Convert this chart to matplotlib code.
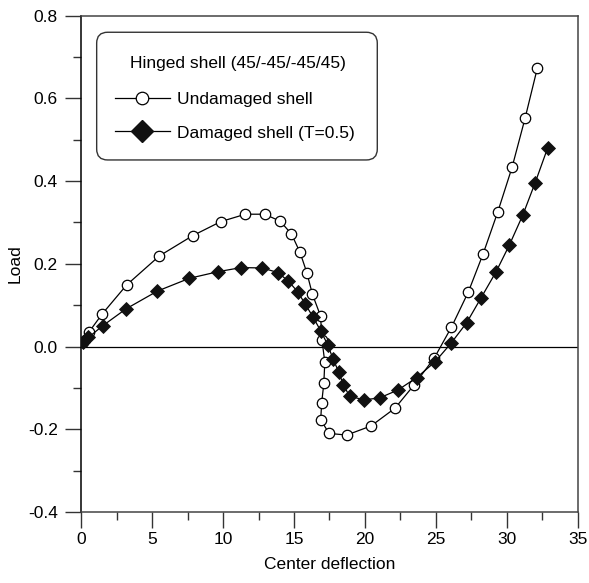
import matplotlib
matplotlib.use("Agg")
import matplotlib.pyplot as plt
from matplotlib.lines import Line2D
from matplotlib.patches import FancyBboxPatch
from matplotlib.ticker import MultipleLocator

plt.rcParams['font.family'] = ['Liberation Sans', 'DejaVu Sans']

# Undamaged shell
und_x = [0.14, 0.56, 1.48, 3.2, 5.5, 7.85, 9.83, 11.57, 12.93, 14.03, 14.82, 15.42, 15.9, 16.3,
         16.87, 16.97, 17.17, 17.1, 16.95, 16.88, 17.47, 18.71, 20.43, 22.12, 23.46, 24.9,
         26.1, 27.29, 28.33, 29.36, 30.37, 31.29, 32.16]
und_y = [0.012, 0.036, 0.079, 0.149, 0.219, 0.268, 0.302, 0.320, 0.320, 0.303, 0.272, 0.228, 0.179, 0.126,
         0.074, 0.016, -0.038, -0.089, -0.136, -0.177, -0.210, -0.214, -0.192, -0.149, -0.093, -0.027,
         0.047, 0.132, 0.224, 0.325, 0.433, 0.552, 0.674]

# Damaged shell (T=0.5)
dam_x = [0.14, 0.5, 1.5, 3.15, 5.36, 7.62, 9.64, 11.28, 12.76, 13.86, 14.61, 15.27, 15.8, 16.33,
         16.88, 17.38, 17.75, 18.16, 18.48, 18.92, 19.94, 21.04, 22.33, 23.65, 24.94, 26.07,
         27.18, 28.19, 29.25, 30.19, 31.13, 32.0, 32.89]
dam_y = [0.01, 0.022, 0.05, 0.091, 0.134, 0.165, 0.181, 0.191, 0.190, 0.179, 0.158, 0.132, 0.102, 0.072,
         0.038, 0.004, -0.030, -0.062, -0.093, -0.120, -0.129, -0.124, -0.105, -0.075, -0.037, 0.008,
         0.058, 0.118, 0.181, 0.246, 0.318, 0.396, 0.481]

legend_title = "Hinged shell (45/-45/-45/45)"
labels = ["Undamaged shell", "Damaged shell (T=0.5)"]

FS = 12.5

fig = plt.figure(figsize=(5.89, 5.83), dpi=100)
ax = fig.add_axes([0.138, 0.1218, 0.8428, 0.8513])

ax.axhline(0, color='black', lw=0.9, zorder=1)
ax.plot(und_x, und_y, color='black', lw=0.9, marker='o', ms=7.5, mfc='white', mec='black',
        mew=0.9, zorder=3)
ax.plot(dam_x, dam_y, color='black', lw=0.9, marker='D', ms=7.2, mfc='#111111', mec='#111111',
        mew=0.6, zorder=4)

ax.set_xlim(0, 35)
ax.set_ylim(-0.4, 0.8)
ax.xaxis.set_major_locator(MultipleLocator(5))
ax.xaxis.set_minor_locator(MultipleLocator(2.5))
ax.yaxis.set_major_locator(MultipleLocator(0.2))
ax.yaxis.set_minor_locator(MultipleLocator(0.1))
ax.yaxis.set_major_formatter(plt.FuncFormatter(lambda v, p: f"{v:.1f}"))
ax.xaxis.set_major_formatter(plt.FuncFormatter(lambda v, p: f"{v:.0f}"))

ax.tick_params(which='major', direction='out', length=11.5, width=1.0, color='#333333',
               labelsize=FS, top=False, right=False)
ax.tick_params(axis='y', which='major', pad=5.5)
ax.tick_params(axis='x', which='major', pad=3.0)
ax.tick_params(which='minor', direction='out', length=5.8, width=1.0, color='#333333',
               top=False, right=False)
for s in ax.spines.values():
    s.set_color('#444444')
    s.set_linewidth(1.1)
ax.spines['left'].set_color('black')

ax.set_xlabel("Center deflection", fontsize=FS, labelpad=7)
ax.set_ylabel("Load", fontsize=FS, labelpad=4)

# legend frame (rounded box)
x0, x1, yb, yt = 0.031, 0.5963, 0.7093, 0.9666
frame = FancyBboxPatch((x0, yb), x1 - x0, yt - yb, boxstyle="round,pad=0,rounding_size=0.022",
                       transform=ax.transAxes, facecolor='white', edgecolor='#333333',
                       linewidth=1.0, zorder=5)
ax.add_patch(frame)
ax.text((x0 + x1) / 2 + 0.002, 0.9027, legend_title, transform=ax.transAxes, ha='center',
        va='center', fontsize=FS, zorder=6)

handles = [
    Line2D([], [], color='black', lw=0.9, marker='o', ms=9, mfc='white', mec='black', mew=0.9),
    Line2D([], [], color='black', lw=0.9, marker='D', ms=11, mfc='#111111', mec='#111111'),
]
leg = ax.legend(handles, labels, loc='center left', bbox_to_anchor=(0.0679, 0.797),
                fontsize=FS, frameon=False, handlelength=3.16, handletextpad=0.4,
                borderpad=0, labelspacing=1.03, borderaxespad=0)
leg.set_zorder(7)

fig.savefig("out.png", dpi=100)
